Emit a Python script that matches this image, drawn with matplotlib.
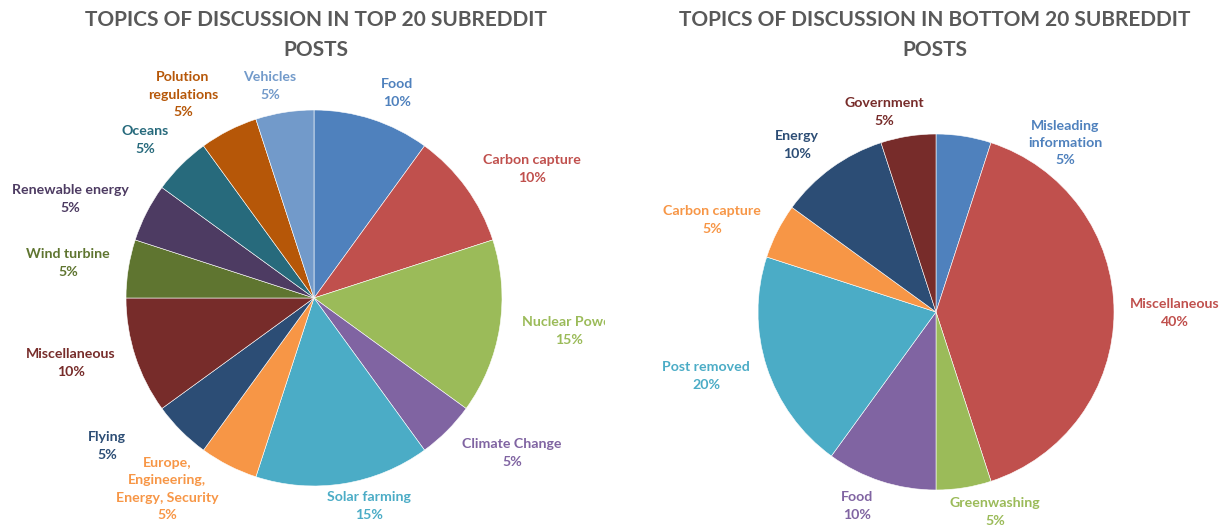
import matplotlib
matplotlib.use("Agg")
import matplotlib.pyplot as plt

# data
top_labels = ["Food", "Carbon capture", "Nuclear Power", "Climate Change", "Solar farming",
              "Europe,\nEngineering,\nEnergy, Security", "Flying", "Miscellaneous",
              "Wind turbine", "Renewable energy", "Oceans", "Polution\nregulations", "Vehicles"]
top_values = [10, 10, 15, 5, 15, 5, 5, 10, 5, 5, 5, 5, 5]

bottom_labels = ["Misleading\ninformation", "Miscellaneous", "Greenwashing", "Food",
                 "Post removed", "Carbon capture", "Energy", "Government"]
bottom_values = [5, 40, 5, 10, 20, 5, 10, 5]

# styles / layout
top_colors = ["#4F81BD", "#C0504D", "#9BBB59", "#8064A2", "#4BACC6", "#F79646", "#2C4D75",
              "#772C2A", "#5F7530", "#4D3B62", "#276A7C", "#B65708", "#729ACA"]
bottom_colors = ["#4F81BD", "#C0504D", "#9BBB59", "#8064A2", "#4BACC6", "#F79646",
                 "#2C4D75", "#772C2A"]
# label centres in pixel coords of the full image (x, y from top)
top_label_pos = [(397, 93), (532, 169), (569, 331), (512, 453), (369, 506), (167, 489),
                 (107, 446), (71, 363), (68, 263), (70, 199), (145, 140), (183, 95), (270, 86)]
bottom_label_pos = [(1065, 143), (1175, 313), (995, 512), (857, 506), (706, 376),
                    (712, 220), (797, 145), (884, 112)]

W, H = 1228, 526
fig = plt.figure(figsize=(W / 100, H / 100), dpi=100)
fig.patch.set_facecolor("white")

font = "Lato"
title_color = "#595959"


def draw(rect_px, values, labels, colors, label_pos, center_px, radius, title):
    x0, w = rect_px
    ax = fig.add_axes([x0 / W, 0, w / W, 1])
    ax.pie(values, colors=colors, startangle=90, counterclock=False,
           center=(center_px[0] - x0, H - center_px[1]), radius=radius,
           wedgeprops=dict(edgecolor="white", linewidth=0.4))
    ax.set_xlim(0, w)
    ax.set_ylim(0, H)
    ax.set_aspect("equal")
    ax.axis("off")
    for lab, val, col, (px, py) in zip(labels, values, colors, label_pos):
        ax.text(px - x0, H - py, f"{lab}\n{val}%", color=col, fontsize=10.2,
                fontweight="bold", family=font, ha="center", va="center",
                linespacing=1.55, clip_on=True)
    ax.text(center_px[0] - x0 + title[1], H - 35, title[0], color=title_color,
            fontsize=15, fontweight="bold", family=font, ha="center", va="center",
            linespacing=1.6)
    return ax


draw((0, 605), top_values, top_labels, top_colors, top_label_pos, (314, 298), 188,
     ("TOPICS OF DISCUSSION IN TOP 20 SUBREDDIT\nPOSTS", 2))
draw((614, 614), bottom_values, bottom_labels, bottom_colors, bottom_label_pos, (936, 312), 178,
     ("TOPICS OF DISCUSSION IN BOTTOM 20 SUBREDDIT\nPOSTS", -1))

fig.savefig("out.png", dpi=100, facecolor="white")
